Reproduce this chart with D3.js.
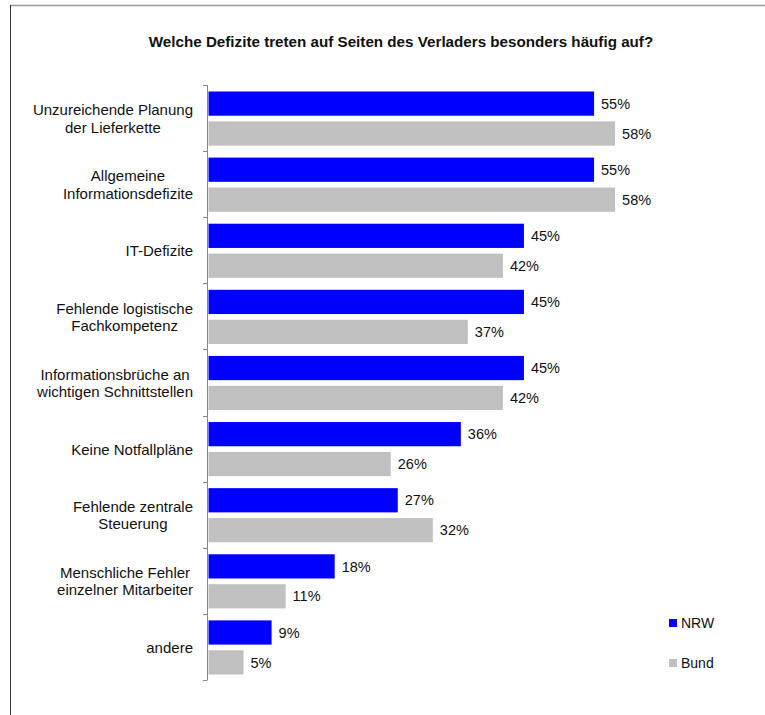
<!DOCTYPE html>
<html>
<head>
<meta charset="utf-8">
<script src="https://cdn.jsdelivr.net/npm/d3@7"></script>
<style>
  body { margin: 0; background: #fff; }
  svg text { font-family: "Liberation Sans", Arial, sans-serif; fill: #111; }
</style>
</head>
<body>
<div id="holder"></div>
<script>
// chart data
var categories = [
  ["Unzureichende Planung", "der Lieferkette"],
  ["Allgemeine", "Informationsdefizite"],
  ["IT-Defizite"],
  ["Fehlende logistische", "Fachkompetenz"],
  ["Informationsbrüche an", "wichtigen Schnittstellen"],
  ["Keine Notfallpläne"],
  ["Fehlende zentrale", "Steuerung"],
  ["Menschliche Fehler", "einzelner Mitarbeiter"],
  ["andere"]
];
var seriesNames = ["NRW", "Bund"];
var nrwValues = [55, 55, 45, 45, 45, 36, 27, 18, 9];
var bundValues = [58, 58, 42, 37, 42, 26, 32, 11, 5];
var colors = {"NRW": "#0000ff", "Bund": "#c0c0c0"};

var width = 765, height = 715;

var svg = d3.select("#holder")
            .append("svg")
            .attr("width", width)
            .attr("height", height);

// frame
svg.append("line")
   .attr("x1", 10).attr("x2", width).attr("y1", 5.5).attr("y2", 5.5)
   .attr("stroke", "#999").attr("stroke-width", 1.5);
svg.append("line")
   .attr("x1", 10.5).attr("x2", 10.5).attr("y1", 5).attr("y2", height)
   .attr("stroke", "#333").attr("stroke-width", 1);

// title
svg.append("text")
   .attr("x", 401).attr("y", 47)
   .attr("text-anchor", "middle")
   .style("font-size", "15.2px")
   .style("font-weight", "bold")
   .text("Welche Defizite treten auf Seiten des Verladers besonders häufig auf?");

var rows = categories.map(function(c, i) {
  return {key: i, label: c, NRW: nrwValues[i], Bund: bundValues[i]};
});

var y = d3.scaleBand()
          .domain(rows.map(d => d.key))
          .range([85, 680])
          .padding(0);

var yInner = d3.scaleBand()
               .domain(seriesNames)
               .range([0, y.bandwidth()])
               .paddingInner(0.19)
               .paddingOuter(0.2);

var x = d3.scaleLinear()
          .domain([0, 100])
          .range([208.5, 208.5 + 701]);

// bars
var groups = svg.append("g")
  .selectAll("g")
  .data(rows)
  .enter()
  .append("g")
  .attr("transform", d => "translate(0," + (y(d.key) + 0.5) + ")");

groups.selectAll("rect")
  .data(d => seriesNames.map(s => ({s: s, v: d[s]})))
  .enter()
  .append("rect")
  .attr("x", x(0))
  .attr("y", d => yInner(d.s))
  .attr("width", d => x(d.v) - x(0))
  .attr("height", yInner.bandwidth())
  .attr("fill", d => colors[d.s]);

groups.selectAll("text.val")
  .data(d => seriesNames.map(s => ({s: s, v: d[s]})))
  .enter()
  .append("text")
  .attr("class", "val")
  .attr("x", d => x(d.v) + 7)
  .attr("y", d => yInner(d.s) + yInner.bandwidth() / 2)
  .attr("dy", "0.36em")
  .style("font-size", "14.5px")
  .text(d => d.v + "%");

// axis with ticks at band edges
var axisG = svg.append("g");
axisG.append("line")
  .attr("x1", 207.5).attr("x2", 207.5)
  .attr("y1", 85).attr("y2", 680)
  .attr("stroke", "#888");
axisG.selectAll("line.tick")
  .data(d3.range(categories.length + 1))
  .enter()
  .append("line")
  .attr("class", "tick")
  .attr("x1", 203).attr("x2", 207.5)
  .attr("y1", i => Math.round(85 + i * y.step()) + 0.5)
  .attr("y2", i => Math.round(85 + i * y.step()) + 0.5)
  .attr("stroke", "#888");

// category labels: block right-aligned, lines centered in block
var lineH = 17.5;
rows.forEach(function(d) {
  var g = svg.append("g");
  var texts = d.label.map(function(line, j) {
    return g.append("text")
      .style("font-size", "15px")
      .attr("text-anchor", "middle")
      .attr("y", y(d.key) + y.bandwidth() / 2 + 0.5 + (j - (d.label.length - 1) / 2) * lineH)
      .attr("dy", "0.36em")
      .text(line);
  });
  var maxW = d3.max(texts, t => t.node().getComputedTextLength());
  var cx = 193 - maxW / 2;
  texts.forEach(t => t.attr("x", cx));
});

// legend
var legend = svg.append("g");
seriesNames.forEach(function(s, i) {
  legend.append("rect")
    .attr("x", 669).attr("y", 619 + i * 40)
    .attr("width", 8).attr("height", 8)
    .attr("fill", colors[s]);
  legend.append("text")
    .attr("x", 681).attr("y", 623 + i * 40)
    .attr("dy", "0.36em")
    .style("font-size", "14px")
    .text(s);
});
</script>
</body>
</html>
